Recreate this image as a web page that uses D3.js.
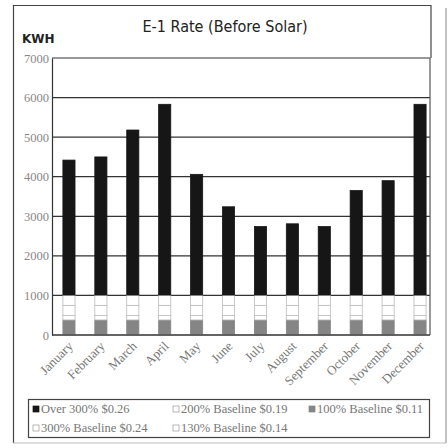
<!DOCTYPE html>
<html>
<head>
<meta charset="utf-8">
<script src="https://cdn.jsdelivr.net/npm/d3@7/dist/d3.min.js"></script>
<style>
  html, body { margin: 0; padding: 0; background: #fff; }
  svg { display: block; }
</style>
</head>
<body>
<svg id="chart" width="448" height="448"></svg>
<script>
// Monthly usage, split by E-1 pricing tier (kWh)
const months = ["January", "February", "March", "April", "May", "June",
                "July", "August", "September", "October", "November", "December"];
const tier100 = [380, 380, 380, 380, 380, 380, 380, 380, 380, 380, 380, 380];
const tier130 = [110, 110, 110, 110, 110, 110, 110, 110, 110, 110, 110, 110];
const tier200 = [260, 260, 260, 260, 260, 260, 260, 260, 260, 260, 260, 260];
const tier300 = [260, 260, 260, 260, 260, 260, 260, 260, 260, 260, 260, 260];
const tierOver = [3410, 3490, 4170, 4820, 3050, 2230, 1730, 1800, 1730, 2640, 2890, 4820];

const yTicks = [0, 1000, 2000, 3000, 4000, 5000, 6000, 7000];

// Stack order bottom -> top
const tierKeys = ["t100", "t130", "t200", "t300", "tOver"];
const tierLabels = {
  t100: "100% Baseline $0.11",
  t130: "130% Baseline $0.14",
  t200: "200% Baseline $0.19",
  t300: "300% Baseline $0.24",
  tOver: "Over 300% $0.26"
};
const tierFill = { t100: "#858585", t130: "#fff", t200: "#fff", t300: "#fff", tOver: "#161616" };
const tierStroke = { t100: "#858585", t130: "#bbb", t200: "#bbb", t300: "#bbb", tOver: "#161616" };
// Legend is laid out row-wise in three columns
const legendOrder = ["tOver", "t200", "t100", "t300", "t130"];

const rows = months.map((m, i) => ({
  month: m, t100: tier100[i], t130: tier130[i], t200: tier200[i], t300: tier300[i], tOver: tierOver[i]
}));

const svg = d3.select("#chart");
const plot = { left: 52, right: 430, top: 58, bottom: 335 };

const x = d3.scaleBand().domain(months).range([53, 436]).paddingInner(0.62).paddingOuter(0.31);
const y = d3.scaleLinear().domain([0, 7000]).range([plot.bottom, plot.top]);

const serif = "'Liberation Serif', 'DejaVu Serif', serif";

// Outer frame
const frame = svg.append("g").attr("stroke", "#444").attr("stroke-width", 1.2).attr("fill", "none");
frame.append("line").attr("x1", 13.5).attr("y1", 5).attr("x2", 13.5).attr("y2", 443);
frame.append("line").attr("x1", 13).attr("y1", 5.5).attr("x2", 431).attr("y2", 5.5);
frame.append("line").attr("x1", 431).attr("y1", 5).attr("x2", 431).attr("y2", plot.top);
frame.append("line").attr("x1", 446).attr("y1", 8).attr("x2", 446).attr("y2", 443).attr("stroke", "#999");
frame.append("line").attr("x1", 13).attr("y1", 443).attr("x2", 446).attr("y2", 443).attr("stroke", "#bbb");

// Title
svg.append("text")
  .attr("x", 225).attr("y", 32)
  .attr("text-anchor", "middle")
  .attr("font-family", "'Liberation Sans Narrow', 'DejaVu Sans Condensed', sans-serif")
  .attr("font-size", 16)
  .attr("fill", "#222")
  .text("E-1 Rate (Before Solar)");

// Axis unit
svg.append("text")
  .attr("x", 22).attr("y", 43)
  .attr("font-family", "'Liberation Sans Narrow', 'DejaVu Sans', sans-serif")
  .attr("font-weight", "bold")
  .attr("font-size", 12)
  .attr("fill", "#222")
  .text("KWH");

// Horizontal gridlines
svg.append("g")
  .selectAll("line")
  .data(yTicks)
  .join("line")
  .attr("x1", plot.left).attr("x2", plot.right)
  .attr("y1", d => y(d)).attr("y2", d => y(d))
  .attr("stroke", "#333").attr("stroke-width", 1.2);

// Y axis
const yAxis = d3.axisLeft(y).tickValues(yTicks).tickSize(0).tickPadding(3).tickFormat(d3.format("d"));
const gy = svg.append("g").attr("transform", `translate(${plot.left},0)`).call(yAxis);
gy.select(".domain").attr("stroke", "#333").attr("stroke-width", 1.2);
gy.selectAll("text")
  .attr("font-family", serif)
  .attr("font-size", 12.5)
  .attr("fill", "#888");

// Right edge of plot
svg.append("line")
  .attr("x1", plot.right).attr("x2", plot.right)
  .attr("y1", plot.top).attr("y2", plot.bottom)
  .attr("stroke", "#555").attr("stroke-width", 1.2);

// Stacked bars
const stacked = d3.stack().keys(tierKeys)(rows);
svg.append("g")
  .selectAll("g")
  .data(stacked)
  .join("g")
  .attr("fill", d => tierFill[d.key])
  .attr("stroke", d => tierStroke[d.key])
  .attr("stroke-width", 0.8)
  .selectAll("rect")
  .data(d => d)
  .join("rect")
  .attr("x", d => x(d.data.month))
  .attr("width", x.bandwidth())
  .attr("y", d => y(d[1]))
  .attr("height", d => y(d[0]) - y(d[1]));

// X axis
const xAxis = d3.axisBottom(x).tickSize(0).tickPadding(4);
const gx = svg.append("g").attr("transform", `translate(0,${plot.bottom})`).call(xAxis);
gx.select(".domain").remove();
svg.append("line")
  .attr("x1", plot.left).attr("x2", plot.right)
  .attr("y1", plot.bottom).attr("y2", plot.bottom)
  .attr("stroke", "#333").attr("stroke-width", 1.2);
gx.selectAll("text")
  .attr("font-family", serif)
  .attr("font-size", 13)
  .attr("fill", "#777")
  .attr("text-anchor", "end")
  .attr("dy", null)
  .attr("transform", "translate(2,9) rotate(-45)");

// Legend
const legend = svg.append("g");
legend.append("rect")
  .attr("x", 28.5).attr("y", 399.5).attr("width", 401).attr("height", 38)
  .attr("fill", "#fff").attr("stroke", "#444").attr("stroke-width", 1.2);
const colX = [33, 173, 309];
const rowY = [413, 432];
legendOrder.forEach((k, i) => {
  const cx = colX[i % 3], cy = rowY[Math.floor(i / 3)];
  const item = legend.append("g").attr("transform", `translate(${cx},${cy})`);
  item.append("rect")
    .attr("x", 0).attr("y", -7).attr("width", 6).attr("height", 6)
    .attr("fill", tierFill[k])
    .attr("stroke", k === "t100" || k === "tOver" ? tierFill[k] : "#999")
    .attr("stroke-width", 0.7);
  item.append("text")
    .attr("x", 8).attr("y", 0)
    .attr("font-family", serif)
    .attr("font-size", 12.5)
    .attr("fill", "#777")
    .text(tierLabels[k]);
});
</script>
</body>
</html>
